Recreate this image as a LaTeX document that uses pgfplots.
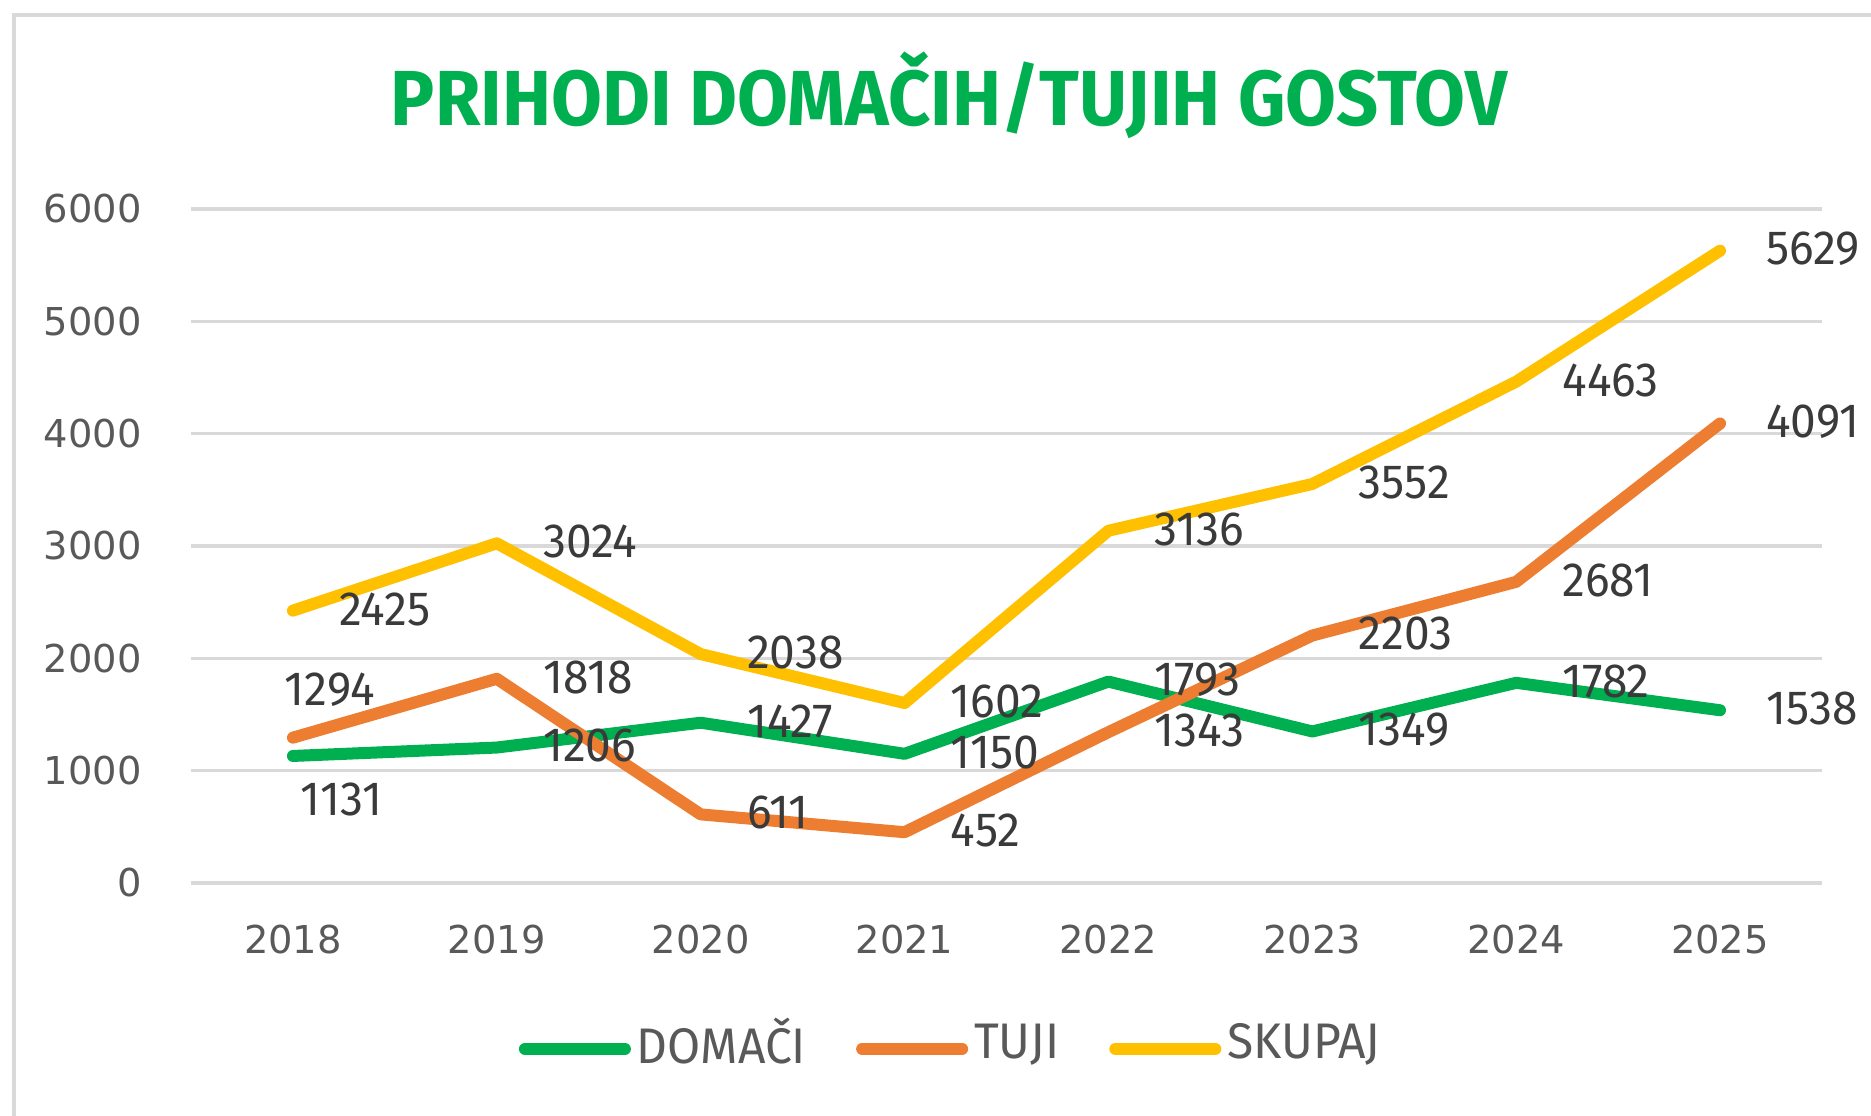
\documentclass[border=0pt]{standalone}
\usepackage{pgfplots}
\pgfplotsset{compat=1.18}
\usepackage{pgfplotstable}
\usepackage{fontspec}
\setmainfont{DejaVu Sans}
\newfontfamily\lblfont[FakeStretch=0.96]{Fira Sans}
\newfontfamily\titlefont[FakeStretch=0.945]{Fira Sans}

\definecolor{cDom}{HTML}{00B050}
\definecolor{cTuj}{HTML}{ED7D31}
\definecolor{cSku}{HTML}{FFC000}
\definecolor{cTick}{HTML}{595959}
\definecolor{cLbl}{HTML}{3A3A3A}
\definecolor{cGrid}{HTML}{D9D9D9}

% dx/dy: label offset from the point (pt)
\pgfplotstableread{
year val dx dy
2018 1131 0.5 -10.9
2019 1206 10.1 0.4
2020 1427 10.1 0.4
2021 1150 10.1 0.4
2022 1793 10.1 0.4
2023 1349 10.1 0.4
2024 1782 10.1 0.4
2025 1538 10.1 0.4
}\domaci
\pgfplotstableread{
year val dx dy
2018 1294 -3.5 11.9
2019 1818 10.1 0.4
2020 611 10.1 0.4
2021 452 10.1 0.4
2022 1343 10.1 0.4
2023 2203 10.1 0.4
2024 2681 10.1 0.4
2025 4091 10.1 0.4
}\tuji
\pgfplotstableread{
year val dx dy
2018 2425 10.1 0.4
2019 3024 10.1 0.4
2020 2038 10.1 0.4
2021 1602 10.1 0.4
2022 3136 10.1 0.4
2023 3552 10.1 0.4
2024 4463 10.1 0.4
2025 5629 10.1 0.4
}\skupaj

\begin{document}
\begin{tikzpicture}
\path[use as bounding box] (0,0) rectangle (467.75pt,278.75pt);
\fill[white] (0,0) rectangle (467.75pt,278.75pt);
\draw[cGrid, line width=0.8pt] (3.5pt,-2pt) -- (3.5pt,275pt) -- (470pt,275pt);
\begin{axis}[
  at={(47.75pt,58pt)}, anchor=south west,
  scale only axis, width=407.75pt, height=168.5pt,
  xmin=2017.5, xmax=2025.5, ymin=0, ymax=6000,
  xtick={2018,...,2025}, ytick={0,1000,...,6000},
  /pgf/number format/1000 sep={},
  /pgf/number format/assume math mode=true,
  axis line style={draw=none}, major tick length=0pt,
  ymajorgrids, grid style={cGrid, line width=0.8pt},
  tick label style={font=\fontsize{9.6}{11}\selectfont, text=cTick},
  xticklabel style={yshift=-7pt},
  yticklabel style={xshift=-8.8pt},
  clip=false,
  point meta=explicit symbolic,
  nodes near coords,
  nodes near coords style={anchor=west, inner sep=0pt, font=\lblfont\fontsize{12}{14}\selectfont, text=cLbl, xshift=\dx pt, yshift=\dy pt},
  every axis plot/.append style={line width=3pt, line join=round, line cap=round, mark=none},
  legend columns=3,
  legend style={draw=none, fill=none, at={(0.467,-0.239)}, anchor=center,
    font=\lblfont\fontsize{12.5}{14}\selectfont, text=cTick,
    nodes={inner sep=1.5pt},
    /tikz/every even column/.append style={column sep=11pt}},
  legend image code/.code={\draw[#1] (0pt,-1.2pt) -- (25pt,-1.2pt);},
]
\addplot[cDom, visualization depends on={\thisrow{dx}\as\dx}, visualization depends on={\thisrow{dy}\as\dy}] table[x=year, y=val, meta=val] {\domaci};
\addlegendentry{DOMAČI}
\addplot[cTuj, visualization depends on={\thisrow{dx}\as\dx}, visualization depends on={\thisrow{dy}\as\dy}] table[x=year, y=val, meta=val] {\tuji};
\addlegendentry{TUJI}
\addplot[cSku, visualization depends on={\thisrow{dx}\as\dx}, visualization depends on={\thisrow{dy}\as\dy}] table[x=year, y=val, meta=val] {\skupaj};
\addlegendentry{SKUPAJ}
\end{axis}
\node[text=cDom, font=\titlefont\bfseries\fontsize{19.5}{22}\selectfont] at (237.25pt,255pt) {PRIHODI DOMAČIH/TUJIH GOSTOV};
\end{tikzpicture}
\end{document}
